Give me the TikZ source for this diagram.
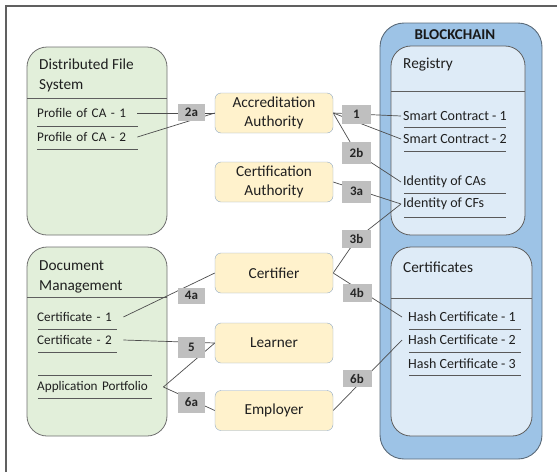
\documentclass[tikz,border=0pt]{standalone}
\usepackage{fontspec}
\setmainfont{Carlito}
\definecolor{gfill}{HTML}{E2EFDA}
\definecolor{gline}{HTML}{6F6F6F}
\definecolor{afill}{HTML}{FFF2CC}
\definecolor{aline}{HTML}{8EA9C8}
\definecolor{bfill}{HTML}{9DC3E6}
\definecolor{bline}{HTML}{5B6B7A}
\definecolor{ifill}{HTML}{DEEBF7}
\definecolor{iline}{HTML}{5F5F5F}
\definecolor{labgray}{HTML}{BFBFBF}
\definecolor{connc}{HTML}{4D4D4D}
\definecolor{ulc}{HTML}{595959}
\definecolor{framec}{HTML}{606060}
\pgfdeclarelayer{back}
\pgfdeclarelayer{mid}
\pgfsetlayers{back,mid,main}
\begin{document}
\begin{tikzpicture}[x=1pt,y=-1pt,
  greenbox/.style={draw=gline, fill=gfill, rounded corners=20pt, line width=0.8pt},
  outerbc/.style={draw=bline, fill=bfill, rounded corners=24pt, line width=0.9pt},
  innerbox/.style={draw=iline, fill=ifill, rounded corners=20pt, line width=0.8pt},
  divider/.style={draw=iline, line width=0.8pt},
  actor/.style={draw=aline, fill=afill, rounded corners=6pt, minimum width=118pt, minimum height=40pt, align=center, inner sep=0pt, font=\fontsize{15.3}{19}\selectfont, text=black!88},
  lab/.style={fill=labgray, inner sep=0pt, minimum width=29pt, minimum height=20pt, font=\bfseries\fontsize{13}{13}\selectfont, text=black!85},
  item/.style={anchor=west, inner sep=0pt, font=\fontsize{14}{14}\selectfont, text=black!88},
  litem/.style={item, align=left, font=\fontsize{13.2}{14}\selectfont},
  titletext/.style={anchor=west, inner sep=0pt, align=left, font=\fontsize{15.3}{20}\selectfont, text=black!88},
  uline/.style={draw=ulc, line width=0.9pt},
  conn/.style={draw=connc, line width=0.7pt},
  framel/.style={draw=framec, line width=1.4pt}
]
\useasboundingbox (0,0) rectangle (557,472);
\draw[framel] (6,472) -- (6,6) -- (557,6);

% containers
\begin{pgfonlayer}{back}
\draw[greenbox] (27,47) rectangle (167,235);
\draw[divider] (27,98) -- (167,98);
\draw[greenbox] (27,247) rectangle (167,436);
\draw[divider] (27,297) -- (167,297);
\draw[outerbc] (380,23) rectangle (542,459);
\draw[innerbox] (391,46) rectangle (525,235);
\draw[divider] (391,91) -- (525,91);
\draw[innerbox] (391,247) rectangle (532,436);
\draw[divider] (391,298) -- (532,298);
\end{pgfonlayer}

% titles
\node[titletext] (dfs) at (39,75) {Distributed File\\System};
\node[titletext] (dm) at (39,277) {Document\\Management};
\node[titletext] (reg) at (403,65) {Registry};
\node[titletext] (certs) at (403,267) {Certificates};
\node[font=\bfseries\fontsize{15}{15}\selectfont, text=black!90, inner sep=0pt] (bc) at (455,35) {BLOCKCHAIN};

% actors
\node[actor] (accr) at (274,113) {Accreditation\\Authority};
\node[actor] (cauth) at (274,182) {Certification\\Authority};
\node[actor] (certifier) at (274,273) {Certifier};
\node[actor] (learner) at (274,343) {Learner};
\node[actor] (employer) at (274,410.5) {Employer};

% items left
\node[litem, text width=100pt] (p1) at (37,113) {Profile of CA - 1};
\node[litem, text width=100pt] (p2) at (37,137) {Profile of CA - 2};
\draw[uline] (37,126) -- (138,126);
\draw[uline] (37,149) -- (138,149);

\node[litem, text width=86pt] (c1) at (37,317) {Certificate - 1};
\node[litem, text width=86pt] (c2) at (37,340) {Certificate - 2};
\node[litem, text width=126pt] (ap) at (37,387) {Application Portfolio};
\draw[uline] (38,329) -- (117,329);
\draw[uline] (38,352) -- (117,352);
\draw[uline] (38,375) -- (152,375);
\draw[uline] (38,398) -- (152,398);

% items right
\node[item, inner xsep=2pt] (sc1) at (401,116) {Smart Contract - 1};
\node[item, inner xsep=2pt] (sc2) at (401,139) {Smart Contract - 2};
\node[item, inner xsep=2pt] (idca) at (401,182) {Identity of CAs};
\node[item, inner xsep=2pt] (idcf) at (401,204) {Identity of CFs};
\draw[uline] (404,127) -- (506,127);
\draw[uline] (404,151) -- (506,151);
\draw[uline] (404,193) -- (506,193);
\draw[uline] (404,217) -- (506,217);

\node[item, inner xsep=6pt] (h1) at (402,317) {Hash Certificate - 1};
\node[item, inner xsep=6pt] (h2) at (402,340) {Hash Certificate - 2};
\node[item, inner xsep=6pt] (h3) at (402,364) {Hash Certificate - 3};
\draw[uline] (409,329) -- (521,329);
\draw[uline] (409,352) -- (521,352);
\draw[uline] (409,375) -- (521,375);

% labels
\node[lab, minimum width=27pt, minimum height=17pt] (l2a) at (191.5,112) {2a};
\node[lab, minimum height=19pt] (l1) at (356.5,114.5) {1};
\node[lab, minimum height=22pt] (l2b) at (356.5,153) {2b};
\node[lab, minimum height=22pt] (l3a) at (356.5,191.5) {3a};
\node[lab, minimum height=18pt] (l3b) at (356.5,239) {3b};
\node[lab, minimum height=18pt] (l4b) at (357,293) {4b};
\node[lab, minimum height=17pt] (l6b) at (357,378.5) {6b};
\node[lab, minimum width=27pt, minimum height=16pt] (l4a) at (191.5,295.5) {4a};
\node[lab, minimum width=27pt, minimum height=21pt] (l5) at (191.5,347.5) {5};
\node[lab, minimum width=27pt, minimum height=21pt] (l6a) at (191.5,402.5) {6a};

% connectors
\begin{pgfonlayer}{mid}
\draw[conn] (p1.east) -- (accr.west);
\draw[conn] (p2.east) -- (accr.west);
\draw[conn] (accr.east) -- (sc1.west);
\draw[conn] (accr.east) -- (sc2.west);
\draw[conn] (accr.east) -- (l2b.center) -- (idca.west);
\draw[conn] (cauth.east) -- (idcf.west);
\draw[conn] (certifier.east) -- (l3b.center) -- (idcf.west);
\draw[conn] (certifier.east) -- (h1.west);
\draw[conn] (c1.east) -- (certifier.west);
\draw[conn] (c2.east) -- (learner.west);
\draw[conn] (ap.east) -- (learner.west);
\draw[conn] (ap.east) -- (employer.west);
\draw[conn] (employer.east) -- (h2.west);
\end{pgfonlayer}
\end{tikzpicture}
\end{document}
